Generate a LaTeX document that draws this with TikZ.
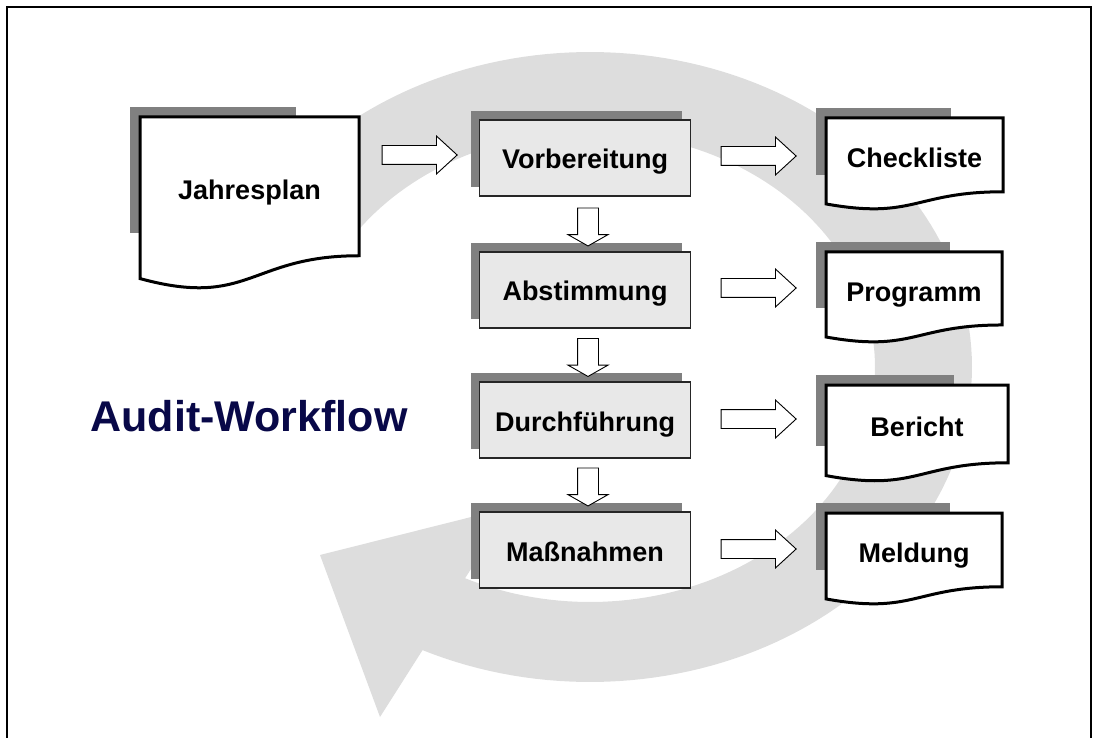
\documentclass[tikz,border=0pt]{standalone}
\usepackage{fontspec}
\setmainfont{Liberation Sans}
\usetikzlibrary{calc,shapes.arrows}

\definecolor{ringgray}{RGB}{221,221,221}
\definecolor{shadowgray}{RGB}{128,128,128}
\definecolor{boxfill}{RGB}{232,232,232}
\definecolor{titleblue}{RGB}{8,8,72}

\pgfdeclarelayer{ring}
\pgfdeclarelayer{shade}
\pgfsetlayers{ring,shade,main}

\tikzset{
  procbox/.style={draw=black!85, line width=1.2pt, fill=boxfill, rectangle,
    minimum width=211pt, minimum height=76pt, inner sep=0pt, outer sep=0pt,
    text height=22pt, text depth=0pt, font=\fontsize{27}{32}\selectfont\bfseries},
  docframe/.style={rectangle, draw=none, inner sep=0pt, outer sep=0pt},
  docline/.style={draw=black, fill=white, line width=3pt, line join=miter},
  doctext/.style={inner sep=0pt, font=\fontsize{27}{32}\selectfont\bfseries},
  rarrow/.style={single arrow, draw=black, fill=white, line width=0.9pt,
    inner sep=0pt, text height=18pt, text depth=0pt,
    single arrow head extend=9.5pt, single arrow tip angle=85,
    minimum height=75pt, minimum width=37pt},
  darrow/.style={single arrow, draw=black, fill=white, line width=0.9pt,
    inner sep=0pt, text height=20pt, text depth=0pt, rotate=-90,
    single arrow head extend=9.5pt, single arrow tip angle=121,
    minimum height=38pt, minimum width=39pt},
  titletext/.style={inner sep=0pt, text=titleblue,
    font=\fontsize{43}{50}\selectfont\bfseries}
}

% process step with its offset shadow: name, centre x, centre y, text
\newcommand\stepbox[4]{%
  \node[procbox] (#1) at (#2,#3) {#4};
  \begin{pgfonlayer}{shade}
    \fill[shadowgray] ($(#1.north west)+(-9,-9)$) rectangle ($(#1.south east)+(-9,-9)$);
  \end{pgfonlayer}
}

% document symbol with wavy bottom and shadow:
% name, left, top, width, height, baseline offset, text
\newcommand\docshape[7]{%
  \node[docframe, minimum width=#4pt, minimum height=#5pt, anchor=north west] (#1) at (#2,#3) {};
  \begin{pgfonlayer}{shade}
    \fill[shadowgray] ($(#1.north west)+(-10,-10)$) rectangle ++(0.76*#4,0.73*#5);
  \end{pgfonlayer}
  \draw[docline] (#1.north west) -- (#1.north east)
    -- ($(#1.north east)!0.802!(#1.south east)$)
    .. controls ($(#1.north)!0.802!(#1.south)$) and ($(#1.north)!1.107!(#1.south)$)
    .. ($(#1.north west)!0.934!(#1.south west)$) -- cycle;
  \node[doctext, anchor=base] (#1-text) at ($(#1.north)+(0,#6)$) {#7};
}

\begin{document}
\begin{tikzpicture}[x=1pt, y=-1pt]
\useasboundingbox (0,0) rectangle (1096,738);

% outer frame
\draw[line width=2pt] (7,738) -- (7,7) -- (1091,7) -- (1091,738);

% large circular arrow in the background
\begin{pgfonlayer}{ring}
  \fill[ringgray]
    plot[domain=-150:116, samples=150] ({590+382*cos(\x)},{367+315*sin(\x)})
    -- (380,717) -- (320,555) -- (511,507)
    -- plot[domain=116:-150, samples=150] ({590+285*cos(\x)},{367+235*sin(\x)})
    -- cycle;
\end{pgfonlayer}

% process steps
\stepbox{vorb}{585}{158}{Vorbereitung}
\stepbox{abst}{585}{290}{Abstimmung}
\stepbox{durch}{585}{420}{Durchführung}
\stepbox{mass}{585}{550}{Maßnahmen}

% documents
\docshape{jahr}{140}{117}{219}{173}{83}{Jahresplan}
\docshape{check}{826}{118}{177}{92}{50}{Checkliste}
\docshape{prog}{826}{252}{176}{91}{50}{Programm}
\docshape{ber}{826}{385}{182}{97}{51}{Bericht}
\docshape{meld}{826}{513}{176}{92}{49}{Meldung}

% block arrows
\node[rarrow] (a-jv) at (414.5,155) {};
\node[rarrow] (a-vc) at (753.5,156) {};
\node[rarrow] (a-ap) at (753.5,288) {};
\node[rarrow] (a-db) at (753.5,419) {};
\node[rarrow] (a-mm) at (753.5,549) {};
\node[darrow] (a-va) at (588,224) {};
\node[darrow] (a-ad) at (588,354.5) {};
\node[darrow] (a-dm) at (588,484) {};

% title
\node[titletext, anchor=base] (title) at (249,431) {Audit-Workflow};
\end{tikzpicture}
\end{document}
